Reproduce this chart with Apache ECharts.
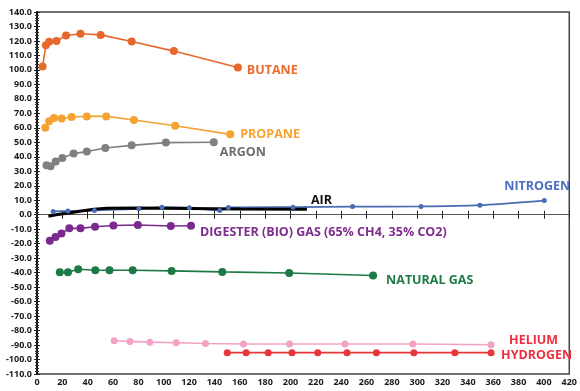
<!DOCTYPE html>
<html><head><meta charset="utf-8">
<script src="https://cdn.jsdelivr.net/npm/echarts@6/dist/echarts.min.js"></script>
<style>html,body{margin:0;padding:0;background:#fff}#c{width:580px;height:391px}</style>
</head><body><div id="c"></div>
<script>
// [x, y] pairs
const butane = [[4.4,102.4],[7,117],[9.6,119.4],[15.4,120],[22.9,123.7],[34.3,125],[50.2,124.2],[74.7,119.6],[108,113],[158.5,101.7]];
const propane = [[6.5,60.1],[9.6,64.5],[13.5,66.8],[19.5,66.5],[27.3,67.5],[39.3,67.9],[54.6,67.9],[76.5,65.4],[109,61.5],[152.5,55.5]];
const argon = [[7.5,34.2],[10.7,33.5],[14.8,36.7],[20,39.2],[28.9,42.2],[39.3,43.6],[53.9,46.1],[74.7,47.9],[101.7,49.8],[139.5,50]];
const nitrogen = [[12.7,2.3],[24.4,2.5],[45.3,3],[80.4,4.1],[98.6,5.2],[120.2,4.8],[144.2,3],[151,5],[202,5.2],[249,5.6],[303,5.7],[349.5,6.6],[400.3,9.8]];
const air = [[9,-1],[15,0],[25,1.2],[35,2.5],[45,3.8],[55,4.5],[80,4.6],[120,4.3],[160,4],[213,3.8]];
const digester = [[10.1,-17.9],[14.6,-15.4],[19.3,-12.9],[25.5,-9.4],[34.3,-9.4],[45.8,-8.3],[60.3,-7.4],[79.6,-7.1],[105.6,-7.8],[121.5,-7.6]];
const naturalGas = [[18,-39.7],[24.4,-39.7],[32.5,-37.7],[46,-38.4],[57.2,-38.4],[75.5,-38.4],[106.2,-38.8],[146.2,-39.5],[199,-40.2],[265.2,-42]];
const helium = [[60.9,-87],[73.4,-87.5],[89,-88],[109.8,-88.4],[133,-88.9],[162.9,-89.3],[199.3,-89.3],[243,-89.3],[296.6,-89.3],[358.3,-89.8]];
const hydrogen = [[150.1,-95.3],[165,-95.3],[182.4,-95.3],[201.2,-95.3],[221.5,-95.3],[244.6,-95.3],[267.8,-95.3],[297.4,-95.3],[329.7,-95.3],[358.3,-95.3]];
const seriesNames = ['BUTANE','PROPANE','ARGON','NITROGEN','AIR','DIGESTER (BIO) GAS (65% CH4, 35% CO2)','NATURAL GAS','HELIUM','HYDROGEN'];
const xMin = 0, xMax = 420, xStep = 20;
const yMin = -110, yMax = 140, yStep = 10;

const FONT = "'Open Sans', 'Noto Sans', sans-serif";
function mk(name, data, color, labelColor, lw, sym, offset, extra) {
  return Object.assign({
    name: name, type: 'line', data: data, xAxisIndex: 0, yAxisIndex: 0,
    symbol: 'circle', symbolSize: sym, showSymbol: sym > 0,
    lineStyle: {color: color, width: lw}, itemStyle: {color: color},
    endLabel: {show: true, formatter: name, color: labelColor, fontFamily: FONT,
      fontWeight: 'bold', fontSize: 12.5, offset: offset, distance: 5},
    emphasis: {disabled: true}
  }, extra || {});
}
const chart = echarts.init(document.getElementById('c'), null, {renderer: 'canvas'});
const axisLbl = {fontFamily: FONT, fontWeight: 'bold', fontSize: 9, color: '#1a1a1a'};
chart.setOption({
  animation: false,
  backgroundColor: '#fff',
  grid: {left: 37, right: 5, top: 12, bottom: 17, show: true, borderColor: '#444', borderWidth: 1.5},
  xAxis: [
    {type: 'value', min: xMin, max: xMax, interval: xStep, position: 'bottom',
     axisLine: {show: false, onZero: false}, axisTick: {show: false}, splitLine: {show: false},
     axisLabel: Object.assign({margin: 4, showMaxLabel: true}, axisLbl)},
    {type: 'value', min: xMin, max: xMax, interval: xStep, position: 'bottom',
     axisLine: {show: true, onZero: true, onZeroAxisIndex: 0, lineStyle: {color: '#555', width: 1}},
     axisTick: {show: true, length: 4, lineStyle: {color: '#222', width: 1}}, axisLabel: {show: false}, splitLine: {show: false}},
    {type: 'value', min: xMin, max: xMax, interval: xStep, position: 'bottom',
     axisLine: {show: false, onZero: true, onZeroAxisIndex: 0},
     axisTick: {show: true, inside: true, length: 4, lineStyle: {color: '#222', width: 1}}, axisLabel: {show: false}, splitLine: {show: false}}
  ],
  yAxis: [
    {type: 'value', min: yMin, max: yMax, interval: yStep, position: 'left',
     axisLine: {show: true, onZero: false, lineStyle: {color: '#111', width: 2}},
     axisTick: {show: true, length: 3, lineStyle: {color: '#222'}},
     minorTick: {show: true, splitNumber: 5, length: 2, lineStyle: {color: '#333'}},
     splitLine: {show: false},
     axisLabel: Object.assign({margin: 5, formatter: v => v.toFixed(1)}, axisLbl)},
    {type: 'value', min: yMin, max: yMax, interval: yStep, position: 'left',
     axisLine: {show: false, onZero: false},
     axisTick: {show: true, inside: true, length: 3, lineStyle: {color: '#222'}},
     minorTick: {show: true, splitNumber: 5, length: 2, lineStyle: {color: '#333'}},
     splitLine: {show: false}, axisLabel: {show: false}}
  ],
  series: [
    mk(seriesNames[0], butane, '#E8682C', '#EE6A2C', 1.6, 8, [4, 3]),
    mk(seriesNames[1], propane, '#F5A233', '#F7A233', 1.6, 8, [5, 0]),
    mk(seriesNames[2], argon, '#808080', '#6E6E6E', 1.6, 8, [1, 10]),
    mk(seriesNames[3], nitrogen, '#4A6CB3', '#4C6EC0', 1.8, 5, [-45, -14], {smooth: 0.2}),
    mk(seriesNames[4], air, '#000000', '#111111', 3, 0, [-1, -9]),
    mk(seriesNames[5], digester, '#7A2A8C', '#7E2C8E', 1.6, 8, [4, 7]),
    mk(seriesNames[6], naturalGas, '#1D7A47', '#1F7A4A', 1.6, 8, [8, 5]),
    mk(seriesNames[7], helium, '#F2A2C4', '#F03040', 1.6, 7, [13, -4]),
    mk(seriesNames[8], hydrogen, '#E8353B', '#F03040', 1.8, 7, [5, 3])
  ]
});
</script></body></html>
